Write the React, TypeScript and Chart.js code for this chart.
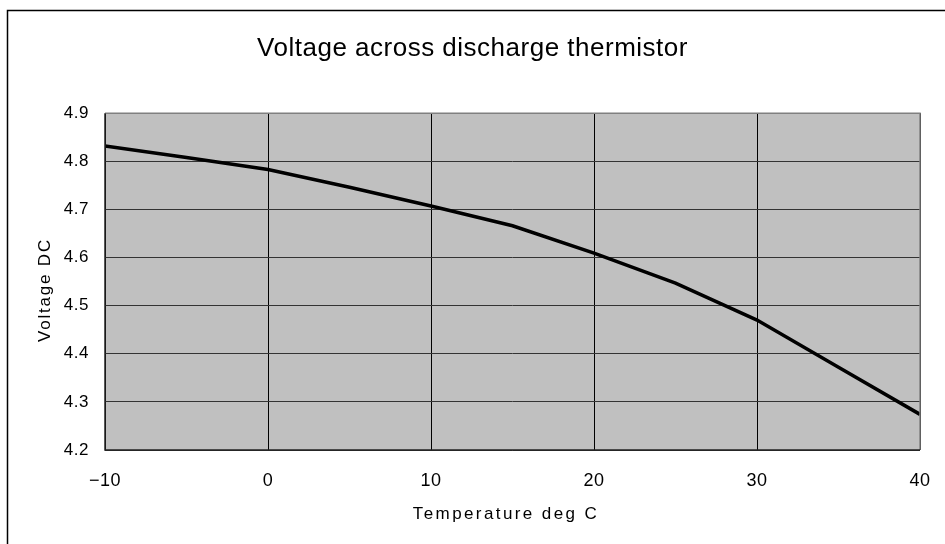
import React, { useEffect, useRef } from "react";
import { Chart, registerables } from "chart.js";

Chart.register(...registerables);

const chartTitle = "Voltage across discharge thermistor";
const xAxisTitle = "Temperature deg C";
const yAxisTitle = "Voltage DC";
const temperatures = [-10, -5, 0, 5, 10, 15, 20, 25, 30, 35, 40];
const voltages = [4.832, 4.808, 4.783, 4.746, 4.707, 4.666, 4.609, 4.547, 4.47, 4.372, 4.274];
const xTicks = { min: -10, max: 40, step: 10 };
const yTicks = { min: 4.2, max: 4.9, step: 0.1 };

const FONT = "'Liberation Sans', Arial, sans-serif";

const decorPlugin = {
  id: "decor",
  beforeDraw(chart: any) {
    const { ctx, chartArea } = chart;
    ctx.save();
    ctx.strokeStyle = "#000";
    ctx.lineWidth = 1.5;
    ctx.beginPath();
    ctx.moveTo(7.5, 600);
    ctx.lineTo(7.5, 10.5);
    ctx.lineTo(960, 10.5);
    ctx.stroke();
    ctx.fillStyle = "#C0C0C0";
    ctx.fillRect(chartArea.left, chartArea.top, chartArea.right - chartArea.left, chartArea.bottom - chartArea.top);
    ctx.restore();
    ctx.letterSpacing = "0.5px";
  },
  afterDraw(chart: any) {
    const { ctx, chartArea } = chart;
    const { left, right, top, bottom } = chartArea;
    ctx.save();
    ctx.lineWidth = 1.5;
    ctx.strokeStyle = "#808080";
    ctx.beginPath();
    ctx.moveTo(left, top);
    ctx.lineTo(right, top);
    ctx.lineTo(right, bottom);
    ctx.stroke();
    ctx.strokeStyle = "#222";
    ctx.beginPath();
    ctx.moveTo(left, top);
    ctx.lineTo(left, bottom);
    ctx.lineTo(right, bottom);
    ctx.stroke();

    ctx.fillStyle = "#000";
    ctx.textAlign = "center";
    ctx.textBaseline = "alphabetic";
    ctx.font = `17px ${FONT}`;
    ctx.letterSpacing = "2.4px";
    ctx.fillText(xAxisTitle, 506, 519);
    ctx.letterSpacing = "1.8px";
    ctx.translate(50, 290);
    ctx.rotate(-Math.PI / 2);
    ctx.fillText(yAxisTitle, 0, 0);
    ctx.restore();
    ctx.letterSpacing = "0px";
  },
};

export default function App() {
  const ref = useRef<HTMLCanvasElement | null>(null);

  useEffect(() => {
    document.body.style.margin = "0";
    const canvas = ref.current;
    if (!canvas) return;
    const points = temperatures.map((t, i) => ({ x: t, y: voltages[i] }));
    const chart = new Chart(canvas, {
      type: "line",
      data: {
        datasets: [
          {
            data: points,
            borderColor: "#000",
            borderWidth: 3.5,
            pointRadius: 0,
            tension: 0,
            fill: false,
          },
        ],
      },
      options: {
        responsive: false,
        animation: false,
        layout: { padding: { left: 0, right: 0, top: 0, bottom: 0 } },
        plugins: {
          legend: { display: false },
          tooltip: { enabled: false },
          title: {
            display: true,
            text: chartTitle,
            color: "#000",
            font: { family: FONT, size: 26, weight: "normal" },
            padding: { top: 33, bottom: 49 },
          },
        },
        scales: {
          x: {
            type: "linear",
            min: xTicks.min,
            max: xTicks.max,
            ticks: {
              stepSize: xTicks.step,
              color: "#000",
              font: { family: FONT, size: 18 },
              padding: 20,
              callback: (v: any) => (Number(v) < 0 ? "\u2212" + Math.abs(Number(v)) : String(v)),
            },
            grid: { color: "#000", lineWidth: 1, drawTicks: false },
            border: { display: false },
            afterFit: (s: any) => {
              s.height = 94;
              s.paddingLeft = 0;
              s.paddingRight = 0;
            },
          },
          y: {
            min: yTicks.min,
            max: yTicks.max,
            ticks: {
              stepSize: yTicks.step,
              color: "#000",
              font: { family: FONT, size: 17 },
              padding: 16,
              callback: (v: any) => Number(v).toFixed(1),
            },
            grid: { color: "#333", lineWidth: 1, drawTicks: false },
            border: { display: false },
            afterFit: (s: any) => {
              s.width = 105;
              s.paddingTop = 0;
              s.paddingBottom = 0;
            },
          },
          yRight: {
            position: "right",
            display: true,
            min: yTicks.min,
            max: yTicks.max,
            ticks: { display: false },
            grid: { display: false, drawTicks: false },
            border: { display: false },
            afterFit: (s: any) => {
              s.width = 25;
              s.paddingTop = 0;
              s.paddingBottom = 0;
            },
          },
        },
      },
      plugins: [decorPlugin],
    } as any);
    return () => chart.destroy();
  }, []);

  return <canvas ref={ref} width={945} height={544} style={{ display: "block" }} />;
}
